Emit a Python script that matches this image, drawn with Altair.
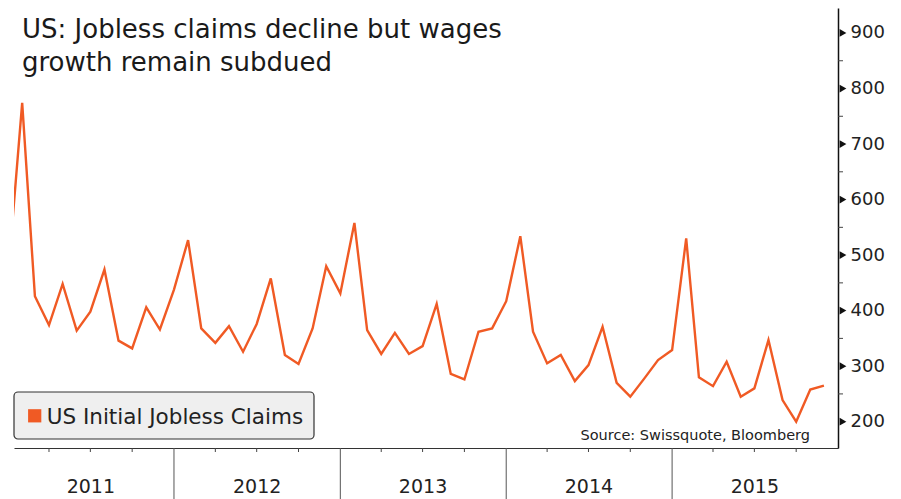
import altair as alt
import pandas as pd

# ---- data ----
months = [f"{y}-{m:02d}-01" for y in range(2011, 2016) for m in range(1, 13)]
claims = [
    465, 774, 426, 374, 448, 364, 398, 474, 346, 332, 406, 366,   # 2011
    438, 527, 368, 342, 372, 326, 376, 458, 320, 304, 368, 480,   # 2012
    431, 558, 365, 322, 360, 322, 336, 412, 286, 276, 362, 368,   # 2013
    417, 534, 362, 305, 320, 273, 302, 371, 270, 245, 278, 311,   # 2014
    329, 530, 280, 264, 308, 245, 260, 347, 239, 200, 258, 265,   # 2015
]
year_labels = ["2011", "2012", "2013", "2014", "2015"]
year_mid = ["2011-07-02", "2012-07-02", "2013-07-02", "2014-07-02", "2015-07-02"]
year_bounds = ["2012-01-01", "2013-01-01", "2014-01-01", "2015-01-01"]
quarter_ticks = [f"{y}-{m:02d}-01" for y in range(2011, 2016) for m in (4, 7, 10)]
major_y = [200, 300, 400, 500, 600, 700, 800, 900]
minor_y = [250, 350, 450, 550, 650, 750, 850]

title_lines = ["US: Jobless claims decline but wages", "growth remain subdued"]
legend_label = "US Initial Jobless Claims"
source_text = "Source: Swissquote, Bloomberg"

# ---- layout ----
W, H = 824, 440
FONT = "DejaVu Sans"
ORANGE = "#F05A24"

df = pd.DataFrame({"date": months, "value": claims})

xscale = alt.Scale(
    type="time",
    domain=[alt.DateTime(year=2011, month=1, date=14, utc=True),
            alt.DateTime(year=2016, month=1, date=1, utc=True)],
    nice=False,
)
yscale = alt.Scale(domain=[152.6, 945], nice=False, zero=False)

xaxis = alt.Axis(labels=False, ticks=False, grid=False, title=None,
                 domainColor="#333333", domainWidth=1.2)
yaxis = alt.Axis(orient="right", values=major_y, grid=False, title=None,
                 tickSize=0, labelPadding=12, labelFont=FONT,
                 labelFontSize=18, labelColor="#222222",
                 domainColor="#111111", domainWidth=1.5)

line = alt.Chart(df).mark_line(color=ORANGE, strokeWidth=2.4, clip=True).encode(
    x=alt.X("date:T", scale=xscale, axis=xaxis),
    y=alt.Y("value:Q", scale=yscale, axis=yaxis),
)

major_ticks = alt.Chart(pd.DataFrame({"value": major_y})).mark_point(
    shape="triangle-right", filled=True, color="#111111", size=60, opacity=1
).encode(x=alt.value(W + 5), y=alt.Y("value:Q", scale=yscale, axis=yaxis))

minor_ticks = alt.Chart(pd.DataFrame({"value": minor_y})).mark_rule(
    color="#444444", strokeWidth=1
).encode(x=alt.value(W), x2=alt.value(W + 5),
         y=alt.Y("value:Q", scale=yscale, axis=yaxis))

separators = alt.Chart(pd.DataFrame({"date": year_bounds})).mark_rule(
    color="#555555", strokeWidth=1
).encode(x=alt.X("date:T", scale=xscale, axis=xaxis),
         y=alt.value(H), y2=alt.value(H + 51))

qticks = alt.Chart(pd.DataFrame({"date": quarter_ticks})).mark_rule(
    color="#444444", strokeWidth=1
).encode(x=alt.X("date:T", scale=xscale, axis=xaxis),
         y=alt.value(H), y2=alt.value(H + 4))

year_text = alt.Chart(pd.DataFrame({"date": year_mid, "label": year_labels})).mark_text(
    font=FONT, fontSize=19, color="#222222", baseline="middle", align="center"
).encode(x=alt.X("date:T", scale=xscale, axis=xaxis), y=alt.value(H + 39), text="label:N")

title1 = alt.Chart(pd.DataFrame({"t": [title_lines[0]]})).mark_text(
    font=FONT, fontSize=26, color="#1a1a1a", align="left", baseline="alphabetic"
).encode(x=alt.value(8), y=alt.value(29.7), text="t:N")
title2 = alt.Chart(pd.DataFrame({"t": [title_lines[1]]})).mark_text(
    font=FONT, fontSize=26, color="#1a1a1a", align="left", baseline="alphabetic"
).encode(x=alt.value(8), y=alt.value(63), text="t:N")

legend_box = alt.Chart(pd.DataFrame({"a": [0]})).mark_rect(
    fill="#efefef", stroke="#333333", strokeWidth=1.2, cornerRadius=4
).encode(x=alt.value(0), x2=alt.value(300), y=alt.value(384), y2=alt.value(431))

legend_sq = alt.Chart(pd.DataFrame({"a": [0]})).mark_square(
    color=ORANGE, size=175, opacity=1, filled=True
).encode(x=alt.value(20.7), y=alt.value(407.8))

legend_txt = alt.Chart(pd.DataFrame({"t": [legend_label]})).mark_text(
    font=FONT, fontSize=21.5, color="#222222", align="left", baseline="alphabetic"
).encode(x=alt.value(32.7), y=alt.value(416), text="t:N")

source = alt.Chart(pd.DataFrame({"t": [source_text]})).mark_text(
    font=FONT, fontSize=14.5, color="#222222", align="right", baseline="alphabetic"
).encode(x=alt.value(796), y=alt.value(432), text="t:N")

chart = alt.layer(
    line, major_ticks, minor_ticks, separators, qticks, year_text,
    title1, title2, legend_box, legend_sq, legend_txt, source,
).properties(
    width=W, height=H,
    autosize=alt.AutoSizeParams(type="none"),
    padding={"left": 14, "top": 8, "right": 63, "bottom": 51},
    background="white",
).configure_view(stroke=None)

chart.save("out.html", embed_options={"renderer": "svg", "actions": False})
